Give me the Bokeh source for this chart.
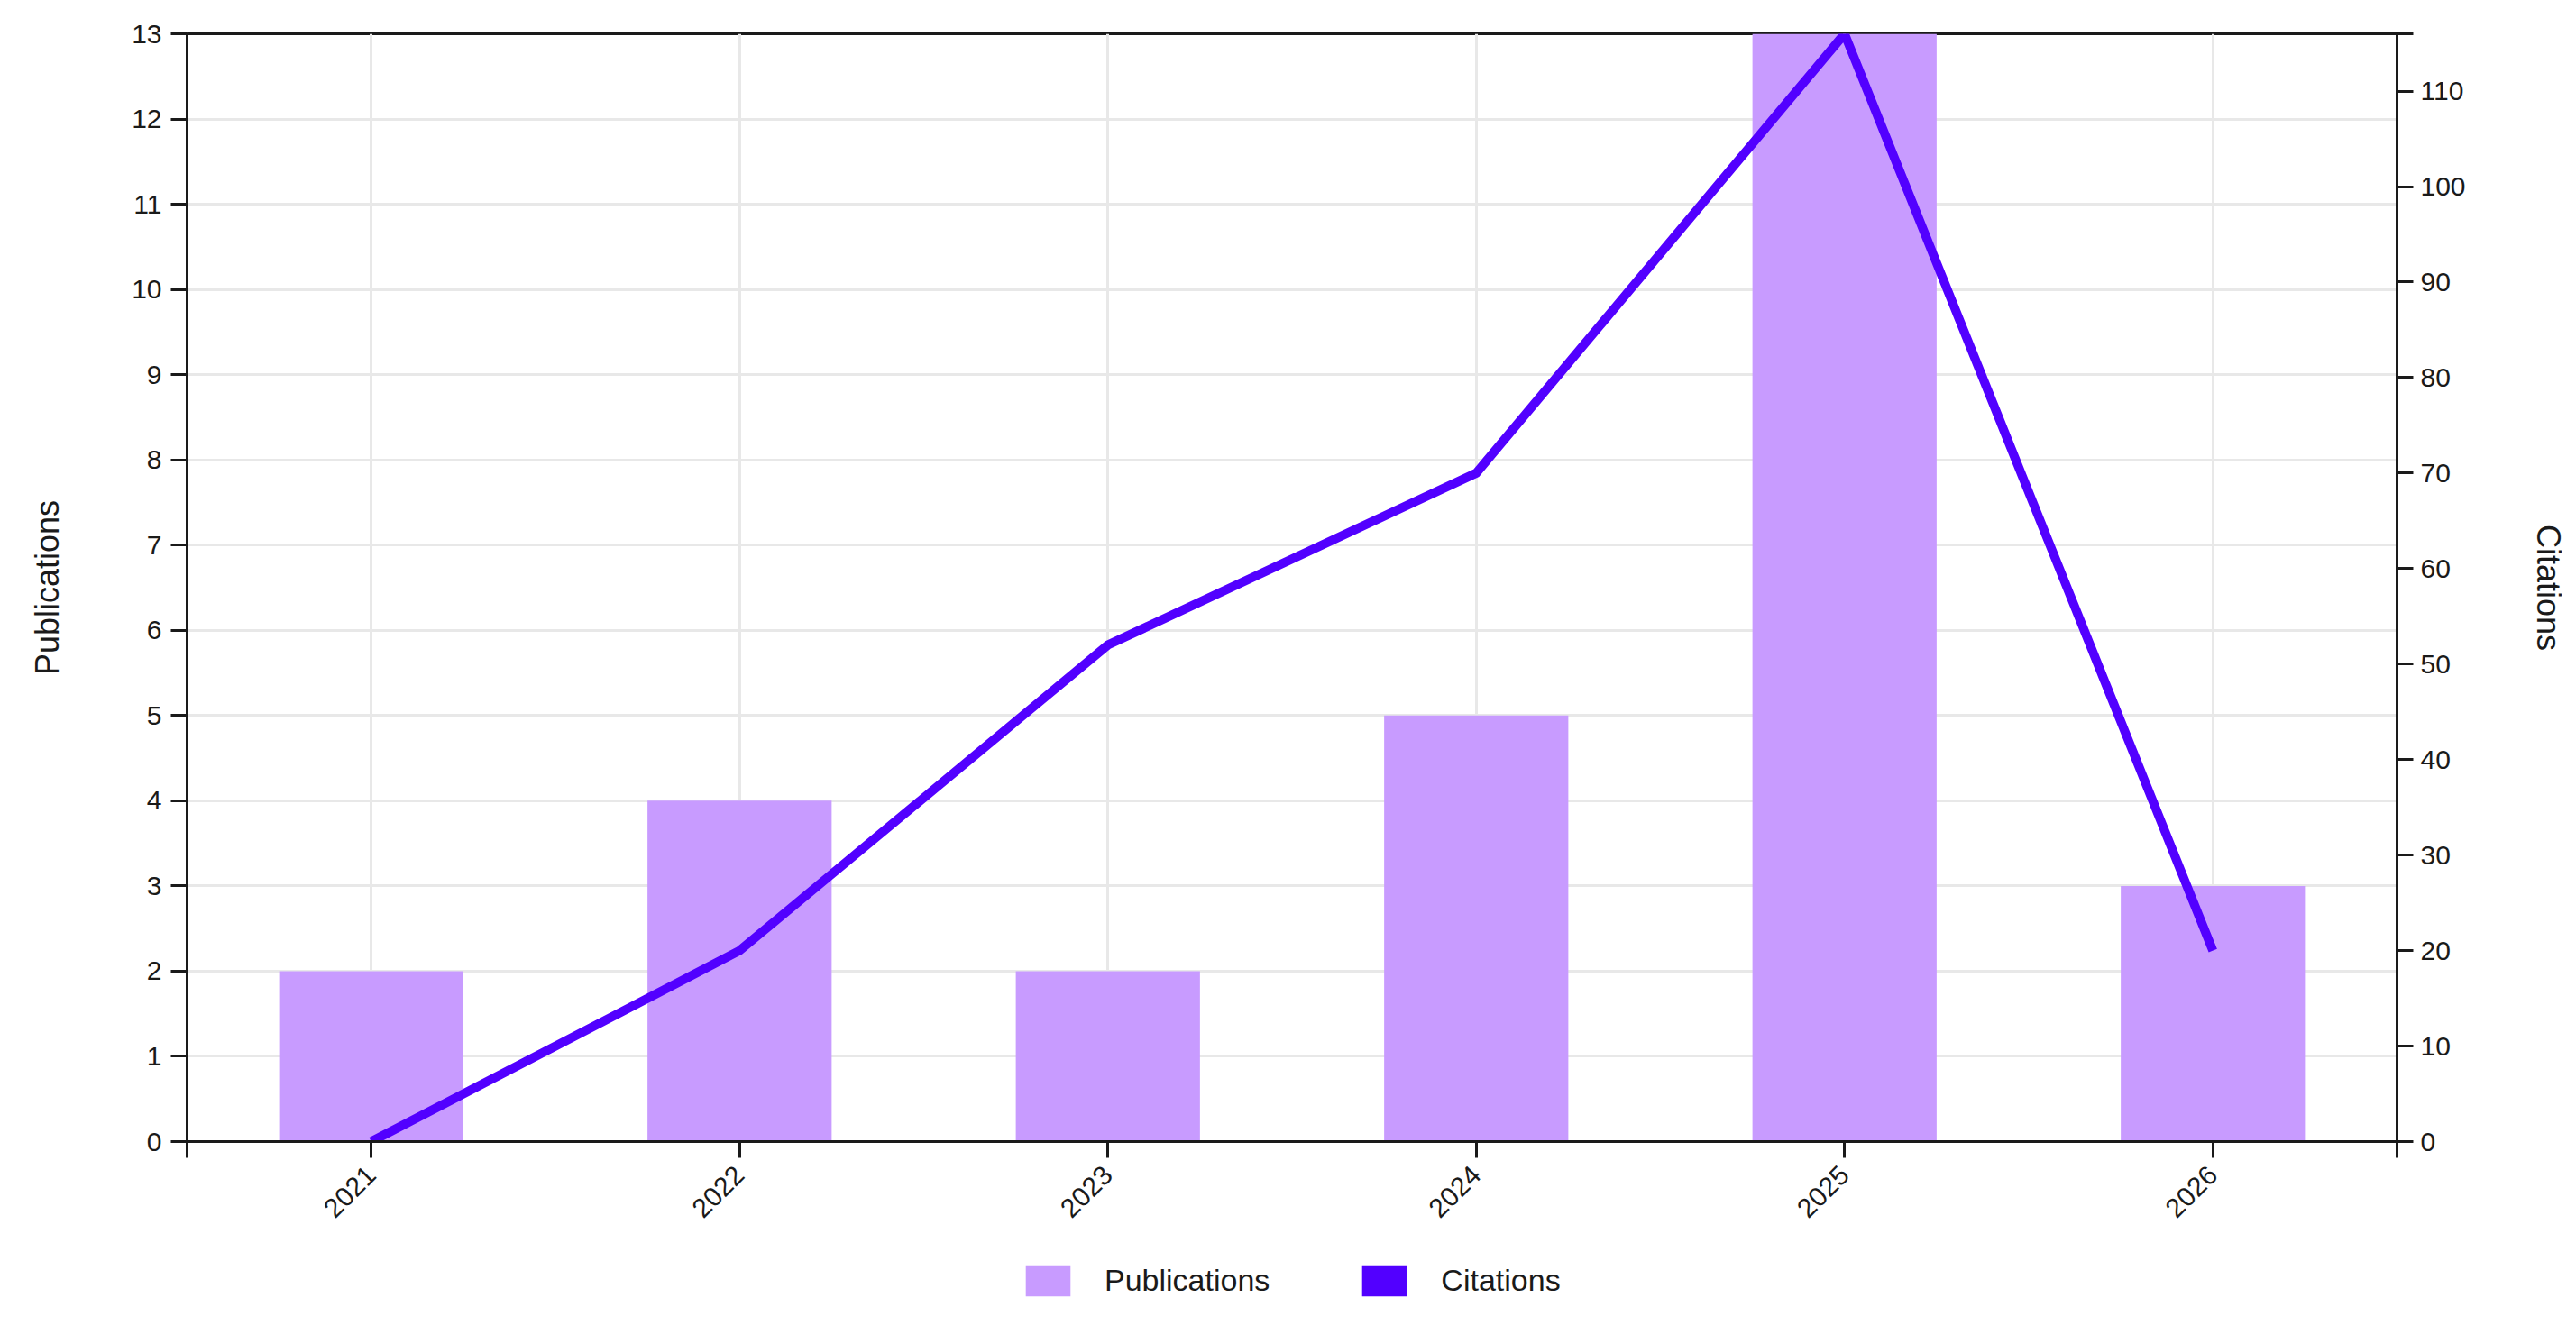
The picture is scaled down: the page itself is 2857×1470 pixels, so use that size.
import math
from bokeh.plotting import figure
from bokeh.layouts import column
from bokeh.models import Range1d, LinearAxis, FixedTicker, Legend, LegendItem
from bokeh.embed import file_html
from bokeh.resources import INLINE

# ---- data ----
years = [2021, 2022, 2023, 2024, 2025, 2026]
publications = [2, 4, 2, 5, 13, 3]
citations = [0, 20, 52, 70, 116, 20]
pub_ticks = list(range(0, 14))
cit_ticks = list(range(0, 111, 10))
series_names = ["Publications", "Citations"]

BAR_COLOR = "#c89bff"
LINE_COLOR = "#5200ff"
AXIS_COLOR = "#1a1a1a"
GRID_COLOR = "#e8e8e8"
FONT = "Liberation Sans"
TICK = 18

W, H1, H2 = 2849, 1376, 94
p = figure(width=W, height=H1, output_backend="svg", toolbar_location=None,
           x_range=Range1d(years[0] - 0.5, years[-1] + 0.5),
           y_range=Range1d(0, max(publications)),
           min_border_left=207, min_border_right=186,
           min_border_top=37, min_border_bottom=110)
p.extra_y_ranges = {"cit": Range1d(0, max(citations))}

p.outline_line_color = AXIS_COLOR
p.outline_line_width = 3

bars = p.vbar(x=years, top=publications, width=0.5, fill_color=BAR_COLOR,
              line_color=None)
p.line(x=years, y=citations, y_range_name="cit", line_color=LINE_COLOR,
       line_width=10, line_join="miter")

# x axis
xa = p.xaxis[0]
xa.ticker = FixedTicker(ticks=years, minor_ticks=[years[0] - 0.5, years[-1] + 0.5])
xa.major_label_orientation = math.pi / 4
xa.minor_tick_out = TICK
xa.minor_tick_in = 0
xa.minor_tick_line_width = 3
xa.minor_tick_line_color = AXIS_COLOR
xa.major_label_standoff = 14

# left axis
ya = p.yaxis[0]
ya.ticker = FixedTicker(ticks=pub_ticks)
ya.minor_tick_line_color = None
ya.axis_label = series_names[0]
ya.axis_label_standoff = 70
ya.major_label_standoff = 10

# right axis
ra = LinearAxis(y_range_name="cit",
                ticker=FixedTicker(ticks=cit_ticks, minor_ticks=[max(citations)]))
ra.minor_tick_out = TICK
ra.minor_tick_in = 0
ra.minor_tick_line_width = 3
ra.minor_tick_line_color = AXIS_COLOR
ra.axis_label = series_names[1]
ra.axis_label_standoff = 68
ra.major_label_standoff = 8
p.add_layout(ra, "right")

for ax in (xa, ya, ra):
    ax.major_tick_out = TICK
    ax.major_tick_in = 0
    ax.axis_line_width = 3
    ax.axis_line_color = AXIS_COLOR
    ax.major_tick_line_width = 3
    ax.major_tick_line_color = AXIS_COLOR
    ax.major_label_text_font = FONT
    ax.major_label_text_font_size = "30px"
    ax.major_label_text_color = "#1a1a1a"
    ax.axis_label_text_font = FONT
    ax.axis_label_text_font_size = "36px"
    ax.axis_label_text_font_style = "normal"
    ax.axis_label_text_color = "#1a1a1a"

p.xgrid.ticker = FixedTicker(ticks=years)
for g in (p.xgrid[0], p.ygrid[0]):
    g.grid_line_color = GRID_COLOR
    g.grid_line_width = 3

# ---- legend strip below the chart (its frame aligns with the chart's frame) ----
lg = figure(width=W, height=H2, output_backend="svg", toolbar_location=None,
            x_range=Range1d(years[0] - 0.5, years[-1] + 0.5),
            y_range=Range1d(0, max(publications)),
            x_axis_location=None, y_axis_location=None,
            min_border_left=0, min_border_right=0,
            min_border_top=0, min_border_bottom=0)
lg.outline_line_color = None
lg.xgrid.visible = False
lg.ygrid.visible = False
# zero-height renderers that only carry the series styles for the legend
r_pub = lg.vbar(x=years, top=publications, bottom=publications, width=0.5,
                fill_color=BAR_COLOR, line_color=None)
r_cit = lg.vbar(x=years, top=publications, bottom=publications, width=0.5,
                fill_color=LINE_COLOR, line_color=None)

legend = Legend(items=[LegendItem(label=series_names[0], renderers=[r_pub]),
                       LegendItem(label=series_names[1], renderers=[r_cit])],
                orientation="horizontal", location=(924, 28),
                glyph_width=62, glyph_height=43, label_standoff=32, spacing=96,
                padding=0, margin=0, border_line_color=None,
                background_fill_alpha=0, label_text_font=FONT,
                label_text_font_size="34px", label_text_color="#1a1a1a")
lg.add_layout(legend, "center")

open("out.html", "w").write(file_html(column(p, lg, spacing=0), INLINE))
